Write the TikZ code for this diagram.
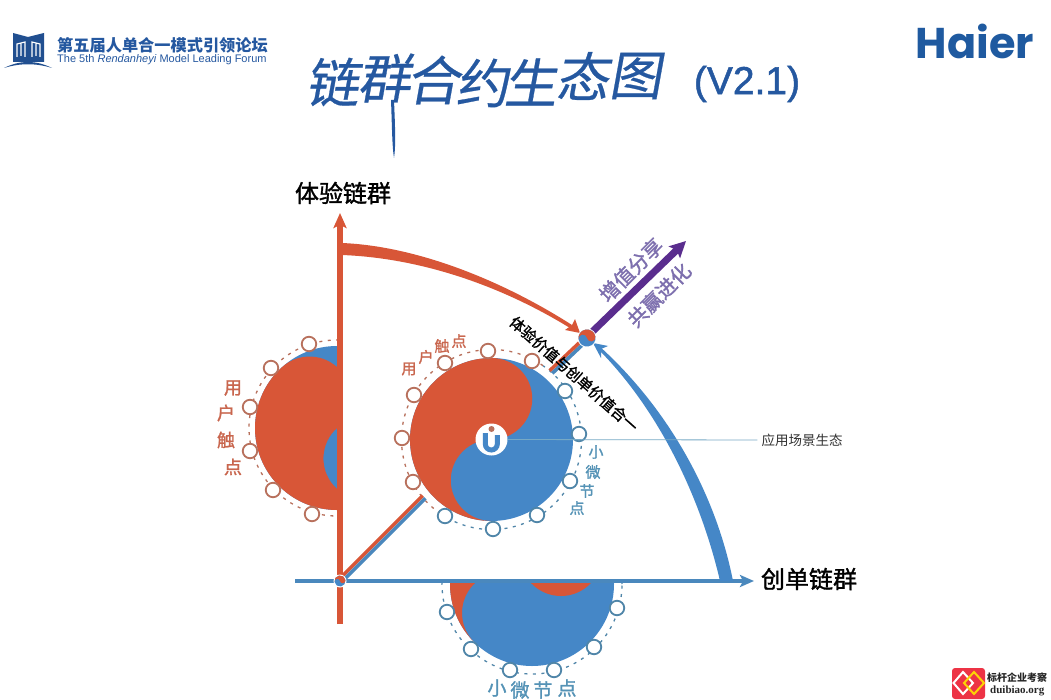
\documentclass[tikz,border=0pt]{standalone}
\usepackage{fontspec}
\usetikzlibrary{arrows.meta}
\setmainfont{Liberation Sans}
\newfontfamily\cjk{Noto Sans CJK SC}
\newfontfamily\cjkm[FakeBold=1.4]{Noto Sans CJK SC}
\newfontfamily\cjkslant[FakeSlant=0.18,FakeBold=0.5]{Noto Sans CJK SC}
\newfontfamily\logofont{Poppins}
\newfontfamily\wmserif{Liberation Serif}
\newfontfamily\vfont[FakeBold=1.3]{Liberation Sans}
\definecolor{rd}{HTML}{D85637}
\definecolor{bl}{HTML}{4587C7}
\definecolor{axisbl}{HTML}{4A88BD}
\definecolor{ringrd}{HTML}{B8705C}
\definecolor{ringbl}{HTML}{4F85A8}
\definecolor{purp}{HTML}{5A2D8E}
\definecolor{purptxt}{HTML}{7D6FAE}
\definecolor{navy}{HTML}{2558A0}
\definecolor{lblrd}{HTML}{C9664E}
\definecolor{lblbl}{HTML}{5593B6}
\definecolor{hbl}{HTML}{1F5AA0}
\newcommand{\fs}[1]{\fontsize{#1}{#1}\selectfont}
\newcommand{\yinyang}[4]{\begin{scope}[shift={(#1,#2)},rotate=#4]
\fill[bl] (0,0) circle[radius=#3];
\fill[rd] (0,#3) arc[start angle=90,end angle=270,radius=#3] arc[start angle=270,end angle=90,radius=#3/2] arc[start angle=270,end angle=450,radius=#3/2] -- cycle;
\end{scope}}
\tikzset{
 x=1pt,y=1pt,
 rnode/.style={circle,draw=ringrd,fill=white,line width=1.8pt,minimum size=14.5pt,inner sep=0pt},
 bnode/.style={circle,draw=ringbl,fill=white,line width=1.8pt,minimum size=14.5pt,inner sep=0pt},
 ringr/.style={draw=ringrd,line width=1.3pt,dash pattern=on 3pt off 5.5pt},
 ringb/.style={draw=ringbl,line width=1.3pt,dash pattern=on 3pt off 5.5pt},
 axislbl/.style={font=\cjkm\fs{24},text=black,inner sep=0pt},
 lrd/.style={font=\cjkm\fs{15},text=lblrd,inner sep=0pt},
 lbb/.style={font=\cjkm\fs{15},text=lblbl,inner sep=0pt},
 lrdb/.style={font=\cjkm\fs{18},text=lblrd,inner sep=0pt},
 lbbb/.style={font=\cjkm\fs{19},text=lblbl,inner sep=0pt},
 ttl/.style={font=\cjkslant\fs{53},text=navy,inner sep=0pt},
 rotlbl/.style={font=\cjkm\fs{20},text=purptxt,inner sep=0pt,rotate=45},
}
\begin{document}
\begin{tikzpicture}
\useasboundingbox (0,-700) rectangle (1051,0);
\fill[white] (0,-700) rectangle (1051,0);
% coordinates
\coordinate (O) at (340,-581);
\coordinate (Vtop) at (340,-213);
\coordinate (Vbot) at (340,-624);
\coordinate (Hleft) at (295,-581);
\coordinate (Hright) at (754,-581);
\coordinate (D1) at (424,-497);
\coordinate (D2) at (551,-372);
\coordinate (M) at (587,-338);
\coordinate (Pstart) at (592,-332);
\coordinate (Ptip) at (686,-241);
\coordinate (UC) at (491.5,-439.5);
% left yin-yang
\begin{scope}
\clip (200,-300) rectangle (340,-560);
\yinyang{337}{-428}{82}{42}
\draw[ringr] (337,-428) circle[radius=88];
\end{scope}
\foreach \px/\py [count=\i] in {309/344,271/368,250/407,250/451,273/490,312/514}
 \node[rnode] (lr\i) at (\px,-\py) {};
% bottom yin-yang
\begin{scope}
\clip (400,-581) rectangle (680,-700);
\yinyang{532}{-584}{82}{-45}
\draw[ringb] (532,-584) circle[radius=90];
\end{scope}
\foreach \px/\py [count=\i] in {447/612,471/649,510/670,554/670,594/647,617/608}
 \node[bnode] (br\i) at (\px,-\py) {};
% central ring
\draw[ringr] (491.5,-439.5) ++(55:90) arc[start angle=55,end angle=235,radius=90];
\draw[ringb] (491.5,-439.5) ++(235:90) arc[start angle=235,end angle=415,radius=90];
\yinyang{491.5}{-439.5}{81.5}{0}
\foreach \px/\py [count=\i] in {488/351,532/361,445/363,414/395,402/438,413/482}
 \node[rnode] (cr\i) at (\px,-\py) {};
\foreach \px/\py [count=\i] in {445/516,493/529,537/515,570/481,579/434,565/391}
 \node[bnode] (cb\i) at (\px,-\py) {};
% diagonal stripes
\begin{scope}[line width=3.6pt]
\draw[rd] ([shift={(-1.3,1.3)}]O) -- ([shift={(-1.3,1.3)}]D1);
\draw[axisbl] ([shift={(1.3,-1.3)}]O) -- ([shift={(1.3,-1.3)}]D1);
\draw[rd] ([shift={(-1.3,1.3)}]D2) -- ([shift={(-1.3,1.3)}]M);
\draw[axisbl] ([shift={(1.3,-1.3)}]D2) -- ([shift={(1.3,-1.3)}]M);
\end{scope}
% axes
\draw[rd,line width=6pt,-{Stealth[length=15pt,width=13pt,inset=3pt]}] (Vbot) -- (Vtop);
\draw[axisbl,line width=4.5pt,-{Stealth[length=14pt,width=12pt,inset=3pt]}] (Hleft) -- (Hright);
% purple arrow
\draw[purp,line width=7pt,-{Stealth[length=16pt,width=16pt,inset=3pt]}] (Pstart) -- (Ptip);
% red arc
\fill[rd] (342,-243) .. controls (415,-246) and (500,-279) .. (572,-325) -- (570,-328) .. controls (500,-285) and (420,-258) .. (342,-255) -- cycle;
\fill[rd] (580,-333) -- (575,-319) -- (572,-325) -- (565,-330) -- cycle;
% blue arc
\fill[bl] (733,-581) .. controls (715,-490) and (665,-405) .. (598,-345) -- (596,-347) .. controls (657,-407) and (700,-495) .. (720,-581) -- cycle;
\fill[bl] (593,-343) -- (608,-346) -- (601,-349) -- (601,-358) -- cycle;
% small yin-yangs
\fill[white] (M) circle[radius=9.5];
\yinyang{587}{-338}{8.5}{-80}
\fill[white] (O) circle[radius=6.5];
\yinyang{340}{-581}{5.5}{-80}
% U logo
\fill[white] (UC) circle[radius=16];
\fill[ringrd] (491.5,-429) circle[radius=3];
\draw[bl,line width=5pt] (485.3,-433) -- (485.3,-444) arc[start angle=180,end angle=360,radius=6] -- (497.3,-435);
% callout
\node[font=\cjk\fs{13.5},text=black!80,inner sep=0pt] (scene) at (802,-440) {应用场景生态};
\draw[draw=lblbl!80,line width=.8pt] (UC) ++(16,0) -- ([xshift=-4pt]scene.west);
% axis labels
\node[axislbl] (tiyan) at (343,-193) {体验链群};
\node[axislbl] (chuang) at (809,-579) {创单链群};
% rotated labels
\node[font=\cjkm\fs{15},text=black,inner sep=0pt,rotate=-41.4] (heyi) at (574,-374) {体验价值与创单价值合一};
\node[rotlbl] (zz) at (631,-270) {增值分享};
\node[rotlbl] (gy) at (659,-295) {共赢进化};
% central labels
\node[lrd] (a1) at (409,-369) {用};
\node[lrd] (a2) at (426,-357) {户};
\node[lrd] (a3) at (442,-346) {触};
\node[lrd] (a4) at (459,-341) {点};
\node[lbb] (b1) at (596,-452) {小};
\node[lbb] (b2) at (593,-472) {微};
\node[lbb] (b3) at (587,-491) {节};
\node[lbb] (b4) at (577,-508) {点};
% left labels
\node[lrdb] (c1) at (233,-388) {用};
\node[lrdb] (c2) at (226,-413) {户};
\node[lrdb] (c3) at (226,-440) {触};
\node[lrdb] (c4) at (233,-467) {点};
% bottom labels
\node[lbbb] (d1) at (497,-688) {小};
\node[lbbb] (d2) at (520,-690) {微};
\node[lbbb] (d3) at (543,-690) {节};
\node[lbbb] (d4) at (567,-688) {点};
% title
\node[ttl] (t1) at (332,-82) {链};
\node[ttl] (t2) at (384,-78) {群};
\node[ttl] (t3) at (433,-80) {合};
\node[ttl] (t4) at (482,-83) {约};
\node[ttl] (t5) at (530,-82) {生};
\node[ttl] (t6) at (582,-76) {态};
\node[ttl] (t7) at (635,-76) {图};
\fill[navy] (391,-100) .. controls (392,-125) and (392,-145) .. (394,-158) .. controls (396,-145) and (395,-125) .. (394,-100) -- cycle;
\node[font=\vfont\fs{39},text=navy,inner sep=0pt] (ver) at (747,-84) {(V2.1)};
% Haier
\node[font=\logofont\bfseries\fs{43},text=hbl,inner sep=0pt] (haier) at (975,-41) {Haier};
% forum logo
\fill[navy!90!black] (13,-33) -- (28,-37) -- (44,-33) -- (44,-62) -- (13,-62) -- cycle;
\draw[white,line width=1.2pt] (17,-57) -- (17,-44) -- (25,-42) -- (25,-57) (21,-44) -- (21,-56);
\draw[white,line width=1.2pt] (32,-57) -- (32,-42) -- (40,-44) -- (40,-57) (36,-44) -- (36,-56);
\fill[navy!90!black] (4,-68) .. controls (20,-60) and (36,-60) .. (52,-68) .. controls (36,-63) and (20,-63) .. (4,-68) -- cycle;
\node[anchor=west,font=\cjk\bfseries\fs{16.2},text=navy,inner sep=0pt] (cn) at (57,-45) {第五届人单合一模式引领论坛};
\node[anchor=west,font=\fs{11},text=navy,inner sep=0pt] (en) at (57,-60) {The 5th \textit{Rendanheyi} Model Leading Forum};
% watermark
\fill[rounded corners=3pt,fill=red!65!purple!80!white] (952,-668) rectangle (985,-699);
\draw[white,line width=2pt] (963,-672) -- (973,-683) -- (963,-694) -- (953.5,-683) -- cycle;
\draw[yellow!70!orange,line width=2pt] (974,-672) -- (984,-683) -- (974,-694) -- (964,-683) -- cycle;
\node[anchor=west,font=\cjk\bfseries\fs{10},text=black!85,inner sep=0pt] (wm1) at (987,-678) {标杆企业考察};
\node[anchor=west,font=\wmserif\bfseries\fs{11},text=black!85,inner sep=0pt] (wm2) at (990,-691) {duibiao.org};
\end{tikzpicture}
\end{document}
